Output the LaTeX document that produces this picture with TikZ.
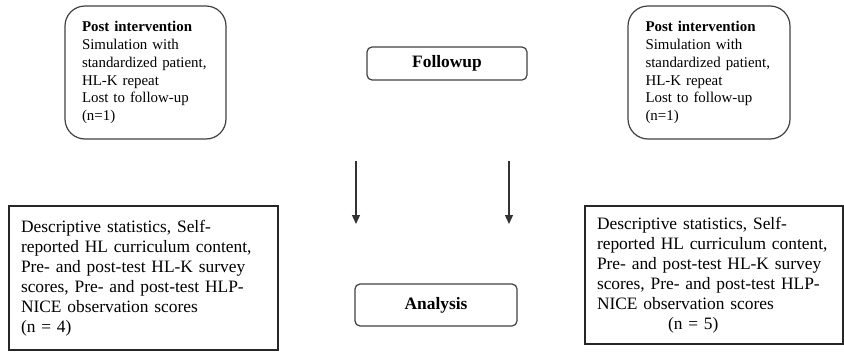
\documentclass[tikz,border=0pt]{standalone}
\usepackage{fontspec}
\setmainfont{Liberation Serif}
\usetikzlibrary{positioning, arrows.meta}
\hyphenpenalty=10000

\begin{document}
\begin{tikzpicture}[x=1pt, y=-1pt, node distance=20pt, >={Triangle[width=8pt,length=9pt]}]
        \tikzstyle{roundbox} = [draw=black!75, line width=1.2pt, rounded corners=20pt, inner xsep=17pt, inner ysep=0pt, align=left, text width=127pt, minimum height=133pt, font=\fontsize{14.9}{17.9}\selectfont]
        \tikzstyle{stagebox} = [draw=black!75, line width=1.2pt, rounded corners=5pt, inner sep=0pt, text centered, font=\fontsize{17.4}{20}\selectfont\bfseries]
        \tikzstyle{databox} = [draw=black!85, line width=1.2pt, rectangle, inner ysep=0pt, align=left, font=\fontsize{17.4}{20}\selectfont]
        \useasboundingbox (0,0) rectangle (844,351);

        \node[roundbox] (postL) at (145.5,72.5) {\textbf{Post intervention}\\ Simulation with\\ standardized patient,\\ HL-K repeat\\ Lost to follow-up\\ (n=1)};
        \node[roundbox, minimum width=162pt] (postR) at (709,72.5) {\textbf{Post intervention}\\ Simulation with\\ standardized patient,\\ HL-K repeat\\ Lost to follow-up\\ (n=1)};
        \node[stagebox, minimum width=160pt, minimum height=33pt] (follow) at (447,63.5) {Followup};
        \node[stagebox, minimum width=162pt, minimum height=42pt] (analysis) at (436,305) {Analysis};

        \node[databox, inner xsep=12pt, text width=245pt, minimum height=144pt] (descL) at (143.5,278) {Descriptive statistics, Self-\\ reported HL curriculum content,\\ Pre- and post-test HL-K survey\\ scores, Pre- and post-test HLP-\\ NICE observation scores\\ (n = 4)};
        \node[databox, inner xsep=12pt, text width=234pt, minimum height=138pt] (descR) at (714,275) {Descriptive statistics, Self-\\ reported HL curriculum content,\\ Pre- and post-test HL-K survey\\ scores, Pre- and post-test HLP-\\ NICE observation scores\\ \hspace*{71pt}(n = 5)};

        % arrows between the stages
        \coordinate (arrL) at (356,161);
        \coordinate (arrLend) at (356,224);
        \coordinate (arrR) at (509,161);
        \coordinate (arrRend) at (509,224);
        \draw[->, line width=1.3pt, black!80] (arrL) -- (arrLend);
        \draw[->, line width=1.3pt, black!80] (arrR) -- (arrRend);
    \end{tikzpicture}
\end{document}
